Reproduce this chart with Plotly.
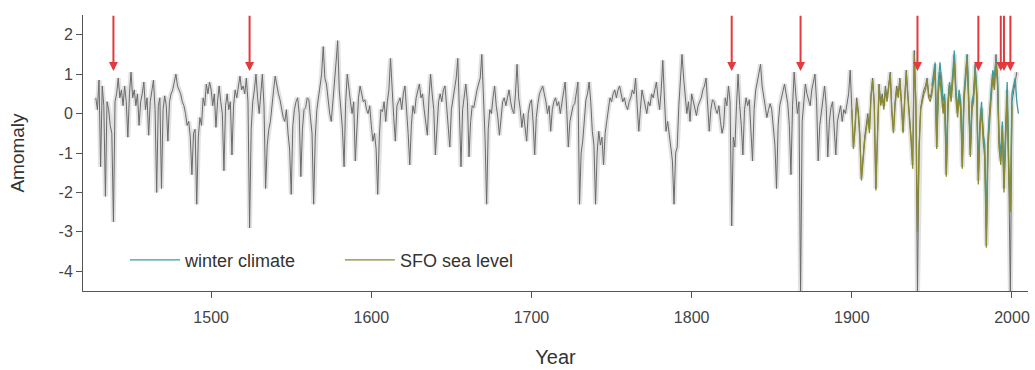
import plotly.graph_objects as go

# ---------------- data ----------------
recon_start = 1428
recon_values = [
    0.4, 0.1, 0.85, -1.35, 0.7, 0.2, -2.1, 0.3, 0.1, -0.3, -0.5, -2.75,          # 1428-1439
    0.3, 0.5, 0.9, 0.4, 0.6, 0.2, 0.7, 0.3, -0.6, 0.5,                           # 1440s
    1.05, 0.4, 0.6, 0.2, 0.5, -0.3, 0.3, 0.5, 0.8, 0.1,                          # 1450s
    0.4, -0.55, 0.3, 0.6, 0.85, 0.1, -2.0, 0.2, 0.4, -1.9,                       # 1460s
    0.1, 0.45, 0.2, -0.7, 0.3, 0.5, 0.6, 0.8, 1.0, 0.7,                          # 1470s
    0.6, 0.5, 0.3, 0.2, 0.0, -0.3, -0.2, -0.6, -1.55, -0.5,                      # 1480s
    -0.4, -2.3, -0.6, -0.1, -0.3, 0.4, 0.2, 0.75, 0.5, 0.8,                      # 1490s
    0.6, 0.2, 0.5, -0.35, 0.3, 0.7, 0.3, 0.0, -1.45, 0.2,                        # 1500s
    0.5, 0.1, 0.3, -1.05, 0.2, 0.6, 0.4, 0.7, 0.95, 0.6,                         # 1510s
    0.7, 0.5, 0.9, 0.3, -2.9, -0.4, 0.3, 0.6, 1.0, 0.4,                          # 1520s
    0.0, 0.5, 1.0, 0.2, -1.9, -0.8, -0.4, -0.2, 0.3, 0.6,                        # 1530s
    0.95, 0.7, 0.5, 0.35, 0.1, -0.1, -0.2, 0.1, -0.5, -0.9,                      # 1540s
    -2.05, -0.3, 0.1, 0.3, 0.4, 0.0, -1.6, -0.4, 0.1, 0.15,                      # 1550s
    0.4, 0.35, -0.1, -0.5, -2.3, -0.6, 0.1, 0.4, 0.6, 1.0,                       # 1560s
    1.7, 0.9, 0.75, 0.3, 0.0, -0.2, 0.4, 0.8, 1.3, 1.85,                         # 1570s
    0.6, 0.15, -0.4, -1.35, 0.3, 1.0, 0.6, 0.3, 0.0, 0.3,                        # 1580s
    -1.2, -0.2, 0.4, 0.7, 0.5, 0.3, 0.35, 0.1, 0.0, 0.2,                         # 1590s
    -0.3, -0.7, -0.5, -0.9, -2.05, -0.6, 0.1, 0.05, 0.3, -0.2,                   # 1600s
    0.3, 0.6, 1.4, 0.5, -0.1, -0.7, 0.2, 0.3, 0.4, 0.1,                          # 1610s
    0.5, 0.7, 0.2, -0.5, -1.3, -0.3, 0.2, 0.0, 0.4, 0.6,                         # 1620s
    0.75, 0.4, 0.5, 0.1, -0.2, -0.55, 0.4, 1.0, 0.5, 0.1,                        # 1630s
    -1.05, -0.2, 0.3, 0.5, 0.3, 0.6, 0.7, 0.2, -0.3, -0.85,                      # 1640s
    0.1, 0.4, 0.6, 0.9, 1.4, 0.2, -1.35, 0.1, 0.5, 0.75,                         # 1650s
    0.3, -1.1, -0.2, 0.2, 0.15, 0.4, 0.6, 0.75, 0.9, 1.5,                        # 1660s
    0.4, -0.6, -2.3, -0.4, 0.1, 0.0, 0.4, 0.7, 0.2, -0.1,                        # 1670s
    -0.55, 0.0, 0.3, 0.4, 0.2, 0.4, 0.6, 0.3, 0.1, 0.0,                          # 1680s
    0.5, 1.25, 0.4, 0.1, -0.35, 0.0, -0.3, -0.7, 0.0, 0.25,                      # 1690s
    0.35, -0.2, -1.05, -0.1, 0.25, 0.5, 0.6, 0.7, 0.5, 0.3,                      # 1700s
    0.0, 0.2, -0.45, 0.1, 0.3, 0.4, 0.2, 0.3, 0.0, 0.3,                          # 1710s
    0.5, 0.8, 0.1, -0.85, -0.2, 0.0, 0.2, 0.25, 0.5, 0.8,                        # 1720s
    -2.3, -1.0, -0.7, -0.2, 0.35, 0.5, 0.8, 0.3, -0.45, -0.8,                    # 1730s
    -2.3, -1.0, -0.45, -0.8, -0.6, -1.3, -0.5, -0.2, 0.1, 0.4,                   # 1740s
    0.3, 0.5, 0.6, 0.4, 0.6, 0.7, 0.5, 0.3, 0.4, 0.2,                            # 1750s
    0.1, 0.3, 0.4, 0.6, 0.5, 0.9, 0.2, -0.45, 0.1, 0.6,                          # 1760s
    0.4, 0.2, 0.0, 0.3, 0.2, 0.5, 0.4, 0.6, 0.8, 0.4,                            # 1770s
    0.1, 0.6, 1.35, 0.4, -0.45, -0.2, -0.6, -0.85, -1.2, -2.3,                   # 1780s
    -1.0, -0.85, 0.2, 0.8, 1.5, 0.9, 0.5, 0.0, 0.3, -0.2,                        # 1790s
    0.5, 0.3, 0.1, -0.05, 0.2, 0.3, 0.4, 0.6, 0.7, 0.9,                          # 1800s
    0.3, -0.45, 0.1, 0.35, 0.3, 0.1, 0.0, 0.2, -0.2, -0.5,                       # 1810s
    -0.3, 0.4, 0.2, 0.7, 0.3, -2.85, -0.6, -0.85, 0.2, 1.0,                      # 1820s
    0.2, -0.3, -1.05, 0.1, 0.4, 0.2, 0.35, -0.3, -1.2, 0.1,                      # 1830s
    0.6, 0.8, 1.0, 1.25, 0.7, 0.4, 0.2, -0.1, 0.1, 0.25,                         # 1840s
    0.1, -0.3, -0.8, -1.9, -0.3, 0.2, 0.4, 0.6, 0.75, 0.5,                       # 1850s
    0.25, -0.3, -1.55, 0.2, 1.05, 0.5, 0.0, 0.3, -4.6, -0.2,                     # 1860s
    0.3, 0.75, 0.5, 0.35, 0.2, 0.6, 0.8, 1.0, 0.3, -1.2,                         # 1870s
    -0.3, 0.0, 0.4, 0.7, 0.2, -1.1, -0.2, 0.15, 0.3, -0.3,                       # 1880s
    -1.05, -0.2, 0.0, 0.2, -0.2, 0.1, 0.0, 0.25, 0.5, 1.1,                       # 1890s
    0.2, -0.85, -0.3, 0.4, 0.1, -0.5, -1.65, -1.0, -0.6, -0.3,                   # 1900s
    0.0, -0.4, 0.5, 0.9, 0.3, -1.9, -0.3, 0.75, 0.3, 0.5,                        # 1910s
    0.2, 0.7, 0.4, 0.8, 1.05, 0.1, -0.45, 0.3, 0.7, 0.5,                         # 1920s
    0.9, 0.3, -0.45, 0.4, 1.1, 0.5, 0.0, -0.6, -1.3, 1.6,                        # 1930s
    0.3, -4.6, -0.8, 0.15, 0.4, 0.6, 0.7, 0.9, 0.5, 0.4,                         # 1940s
    0.6, 0.9, 1.25, -0.85, 0.6, 1.05, 0.7, 0.15, 0.4, -1.55,                     # 1950s
    0.2, 0.75, 0.4, 0.9, 1.5, 0.5, 0.0, 0.5, 0.2, -1.35,                         # 1960s
    0.4, 0.9, 1.5, 0.3, -1.05, 0.2, 0.4, 1.25, 0.5, -1.7,                        # 1970s
    -0.3, 0.15, -0.6, -1.0, -3.35, -0.8, 0.0, 0.5, 1.0, 0.7,                     # 1980s
    1.5, 0.8, -0.85, -1.2, -0.3, -1.9, -0.6, 0.6, -1.5, -4.6,                    # 1990s
    0.3, 0.6, 0.8, 1.05,                                                         # 2000-2003
]
recon_years = [recon_start + i for i in range(len(recon_values))]

sfo_start = 1900
sfo_values = [
    0.1, -0.9, -0.4, 0.3, 0.0, -0.6, -1.7, -1.1, -0.7, -0.4,                     # 1900s
    -0.1, -0.5, 0.4, 0.85, 0.2, -1.95, -0.4, 0.7, 0.2, 0.4,                      # 1910s
    0.1, 0.6, 0.3, 0.75, 1.0, 0.0, -0.5, 0.2, 0.6, 0.4,                          # 1920s
    0.85, 0.2, -0.5, 0.3, 1.05, 0.4, -0.1, -0.7, -1.4, 1.5,                      # 1930s
    0.2, -3.0, -0.9, 0.1, 0.3, 0.5, 0.6, 0.85, 0.4, 0.3,                         # 1940s
    0.5, 0.8, 1.1, -0.9, 0.5, 0.9, 0.5, 0.0, 0.3, -1.6,                          # 1950s
    0.1, 0.7, 0.3, 0.8, 1.3, 0.4, -0.1, 0.4, 0.1, -1.4,                          # 1960s
    0.3, 0.8, 1.4, 0.2, -1.1, 0.1, 0.3, 1.1, 0.4, -1.8,                          # 1970s
    -0.4, 0.1, -0.7, -1.1, -3.4, -0.9, -0.1, 0.4, 0.9, 0.6,                      # 1980s
    1.3, 0.7, -0.9, -1.3, -0.4, -2.0, -0.7, 0.5, -1.6, -2.5,                     # 1990s
    0.2,                                                                         # 2000
]
sfo_years = [sfo_start + i for i in range(len(sfo_values))]

winter_start = 1950
winter_values = [
    0.7, 1.0, 1.3, -0.7, 0.8, 1.3, 0.9, 0.3, 0.5, -1.4,                          # 1950s
    0.3, 0.8, 0.5, 1.0, 1.6, 0.6, 0.1, 0.6, 0.3, -1.2,                           # 1960s
    0.5, 1.0, 1.5, 0.4, -0.9, 0.3, 0.5, 1.2, 0.6, -1.5,                          # 1970s
    -0.2, 0.3, -0.5, -0.8, -2.9, -0.6, 0.1, 0.6, 1.1, 0.9,                       # 1980s
    1.4, 0.9, -0.7, -1.0, -0.2, -1.7, -0.4, 0.8, -1.3, -2.4,                     # 1990s
    0.5, 0.7, 0.9, 0.3, 0.0,                                                     # 2000s
]
winter_years = [winter_start + i for i in range(len(winter_values))]

arrow_years = [1439, 1524, 1825, 1868, 1941, 1979, 1993, 1995, 1999]
arrow_tip = 1.08
arrow_top = 2.52

x_ticks = [1500, 1600, 1700, 1800, 1900, 2000]
x_labels = ["1500", "1600", "1700", "1800", "1900", "2000"]
y_ticks = [-4, -3, -2, -1, 0, 1, 2]
y_labels = ["-4", "-3", "-2", "-1", "0", "1", "2"]

# ---------------- figure ----------------
FONT = "Liberation Sans, Arial, sans-serif"
fig = go.Figure()

# light envelope of reconstruction
fig.add_trace(go.Scatter(
    x=recon_years, y=recon_values, mode="lines",
    line=dict(color="rgba(160,160,160,0.30)", width=5),
    showlegend=False, hoverinfo="skip"))
# reconstruction line
fig.add_trace(go.Scatter(
    x=recon_years, y=recon_values, mode="lines",
    line=dict(color="#6a6a6a", width=1),
    showlegend=False))
# winter climate
fig.add_trace(go.Scatter(
    x=winter_years, y=winter_values, mode="lines", name="winter climate",
    line=dict(color="#3a9c9c", width=1.3), legendrank=1))
# SFO sea level
fig.add_trace(go.Scatter(
    x=sfo_years, y=sfo_values, mode="lines", name="SFO sea level",
    line=dict(color="#8a8a30", width=1.3), legendrank=2))

for yr in arrow_years:
    fig.add_annotation(
        x=yr, y=arrow_tip, ax=yr, ay=arrow_top,
        xref="x", yref="y", axref="x", ayref="y",
        text="", showarrow=True, arrowhead=2, arrowsize=0.9,
        arrowwidth=2, arrowcolor="#e4393e", standoff=0)

fig.update_layout(
    width=1035, height=370,
    margin=dict(l=83, r=7, t=15, b=79, autoexpand=False),
    paper_bgcolor="white", plot_bgcolor="white",
    font=dict(family=FONT, size=16, color="#333333"),
    legend=dict(orientation="h", x=0.0444, y=0.045, xanchor="left", yanchor="bottom",
                bgcolor="rgba(0,0,0,0)", font=dict(size=18, color="#333333"),
                itemwidth=50, entrywidth=150, traceorder="normal"),
)
fig.update_xaxes(
    range=[1420, 2010], tickvals=x_ticks, ticktext=x_labels,
    ticks="outside", ticklen=6, automargin=False, ticklabelstandoff=6,
    ticklabeloverflow="allow",
    tickcolor="#555555", showline=True, linecolor="#555555", linewidth=1,
    showgrid=False, zeroline=False,
    title=dict(text="Year", font=dict(size=20, color="#333333"), standoff=24),
    tickfont=dict(size=16, color="#444444"))
fig.update_yaxes(
    range=[-4.5, 2.5], tickvals=y_ticks, ticktext=y_labels,
    ticks="outside", ticklen=6, automargin=False,
    tickcolor="#555555", showline=True, linecolor="#555555", linewidth=1,
    showgrid=False, zeroline=False,
    title=dict(text="Amomaly", font=dict(size=19, color="#333333"), standoff=28),
    tickfont=dict(size=16, color="#444444"))

# remove the default 8 px page margin so the figure fills the window exactly
fig.write_html(
    "out.html", default_width="1035px", default_height="370px",
    config={"displayModeBar": False},
    post_script="document.body.style.margin='0';document.body.style.overflow='hidden';")
